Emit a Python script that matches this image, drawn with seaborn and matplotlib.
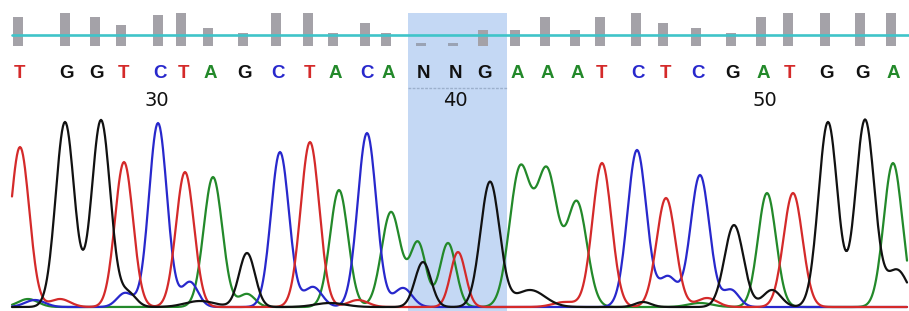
import numpy as np
import pandas as pd
import matplotlib
matplotlib.use("Agg")
import matplotlib.pyplot as plt
import seaborn as sns

# ---------------- data ----------------
bases = list("TGGTCTAGCTACANNGAAATCTCGATGGA")
base_x = [20, 67, 97, 123, 160, 183, 210, 245, 278, 310, 335, 367, 388, 423, 455,
          485, 517, 547, 577, 602, 638, 665, 698, 733, 763, 790, 827, 862, 893]
quality = [29, 33, 29, 21, 31, 33, 18, 13, 33, 33, 13, 23, 13, 3, 3,
           16, 16, 29, 16, 29, 33, 23, 18, 13, 29, 33, 33, 33, 33]
pos_labels = ["30", "40", "50"]
pos_label_x = [157, 455, 765]

# peaks per channel: centre (px), height (px above baseline), width (sigma px)
T_center = [20, 60, 124, 185, 310, 358, 458, 565, 602, 666, 707, 793]
T_height = [160, 8, 145, 135, 165, 7, 55, 5, 144, 109, 9, 114]
T_width = [9.3, 10, 9.0, 9.0, 9.3, 10, 7.5, 12, 9.5, 9.5, 10, 9.5]

C_center = [35, 125, 158, 190, 280, 313, 367, 403, 637, 668, 700, 731]
C_height = [7, 14, 184, 25, 155, 20, 174, 19, 157, 30, 132, 17]
C_width = [10, 8, 9.0, 8, 9.0, 9, 9.3, 9, 9.5, 9, 9.5, 8]

A_center = [28, 213, 247, 339, 391, 418, 448, 520, 547, 577, 700, 767, 893]
A_height = [8, 130, 13, 117, 95, 64, 64, 137, 134, 104, 4, 114, 144]
A_width = [10, 9.3, 8, 9.0, 9.5, 8.0, 8.0, 10.5, 10.5, 10, 12, 9.0, 9.3]

G_center = [65, 101, 128, 200, 247, 330, 423, 490, 530, 643, 734, 772, 828, 865, 897]
G_height = [185, 187, 14, 6, 54, 4, 45, 125, 17, 5, 82, 17, 185, 187, 37]
G_width = [9.3, 9.3, 8, 15, 8, 15, 8, 9.5, 15, 8, 9.5, 9, 9.5, 9.5, 11]

# ---------------- layout / style ----------------
W, H = 909, 311
BASE_Y = 307
colors = {"T": "#d42a2a", "C": "#2828cc", "A": "#23892a", "G": "#111111", "N": "#111111"}

x = np.arange(12, 908, 1.0)


def trace(centers, heights, widths):
    y = np.zeros_like(x)
    for c, h, w in zip(centers, heights, widths):
        y += h * np.exp(-0.5 * ((x - c) / w) ** 2)
    return BASE_Y - y


rows = []
for ch, (cc, hh, ww) in {"A": (A_center, A_height, A_width),
                          "C": (C_center, C_height, C_width),
                          "T": (T_center, T_height, T_width),
                          "G": (G_center, G_height, G_width)}.items():
    yy = trace(cc, hh, ww)
    rows.append(pd.DataFrame({"x": x, "y": yy, "channel": ch}))
df = pd.concat(rows, ignore_index=True)

sns.set_theme(style="white")
fig = plt.figure(figsize=(W / 100, H / 100), dpi=100)
ax = fig.add_axes([0, 0, 1, 1])
ax.set_xlim(0, W)
ax.set_ylim(H, 0)
ax.axis("off")

# selection band
ax.axvspan(408, 507, ymin=0, ymax=1 - 13 / H, color="#c4d8f4", zorder=0, lw=0)
ax.plot([408, 507], [88, 88], color="#9cb0cc", lw=1.0, ls=(0, (2, 1)), zorder=1)

# quality bars
q_top = [46 - q for q in quality]
for bx, qt, b in zip(base_x, q_top, bases):
    col = "#9aa3b4" if b == "N" else "#a4a2a8"
    ax.bar(bx - 2, 46 - qt, bottom=qt, width=9.5, color=col, zorder=2, lw=0)
ax.plot([12, W], [34.5, 34.5], color="#3fc4c9", lw=1.9, zorder=3)

# base letters
for bx, b in zip(base_x, bases):
    ax.text(bx, 73, b, color=colors[b], ha="center", va="center",
            fontsize=13.5, fontfamily="Liberation Sans", fontweight="bold", zorder=4)
for lx, lab in zip(pos_label_x, pos_labels):
    ax.text(lx, 101, lab, color="#111111", ha="center", va="center",
            fontsize=14, fontfamily="DejaVu Sans", zorder=4)

# traces
sns.lineplot(data=df, x="x", y="y", hue="channel", sort=False,
             palette={k: colors[k] for k in "ACTG"}, lw=1.6,
             legend=False, ax=ax, zorder=5)
ax.set_xlim(0, W)
ax.set_ylim(H, 0)
ax.axis("off")

fig.savefig("out.png", dpi=100, facecolor="white")
